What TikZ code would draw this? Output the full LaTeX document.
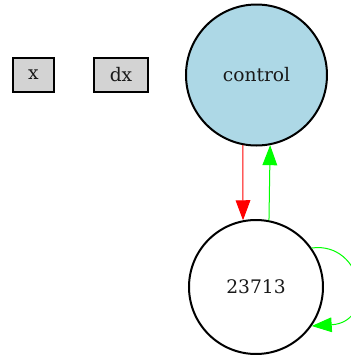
\documentclass[tikz,border=0pt]{standalone}
\usepackage{fontspec}
\setmainfont{DejaVu Serif}
\usetikzlibrary{arrows.meta}
\definecolor{boxgray}{HTML}{D3D3D3}
\definecolor{ctrlblue}{HTML}{ADD8E6}
\definecolor{edgered}{HTML}{FF0000}
\definecolor{edgegreen}{HTML}{00FF00}
\begin{document}
\begin{tikzpicture}[x=0.75pt,y=-0.75pt,
  every node/.style={font=\fontsize{14pt}{16pt}\selectfont, text=black!90},
  inbox/.style={draw, line width=1.5pt, fill=boxgray, inner sep=0pt,
    minimum height=25.5pt},
  neuron/.style={circle, draw, line width=1.5pt, inner sep=0pt},
  link/.style={line width=0.75pt, -{Triangle[length=15pt,width=11pt]}}]
  \useasboundingbox (0,0) rectangle (351,355);
  \clip (0,0) rectangle (351,355);

  % input nodes
  \node[inbox, minimum width=31pt] (x) at (33.5,75) {x};
  \node[inbox, minimum width=40.5pt] (dx) at (121,75) {dx};

  % output and hidden neurons
  \node[neuron, fill=ctrlblue, minimum size=105.75pt] (control) at (256.5,75) {control};
  \node[neuron, fill=white, minimum size=100.5pt] (n23713) at (256,287) {23713};

  % connections
  \draw[link, edgered] (control.-101) -- (n23713.101);
  \draw[link, edgegreen] (n23713.79) -- (control.-79);
  \draw[link, edgegreen] (n23713.35) .. controls +(52,-7) and +(66,-4) .. (n23713.-35);
\end{tikzpicture}
\end{document}
